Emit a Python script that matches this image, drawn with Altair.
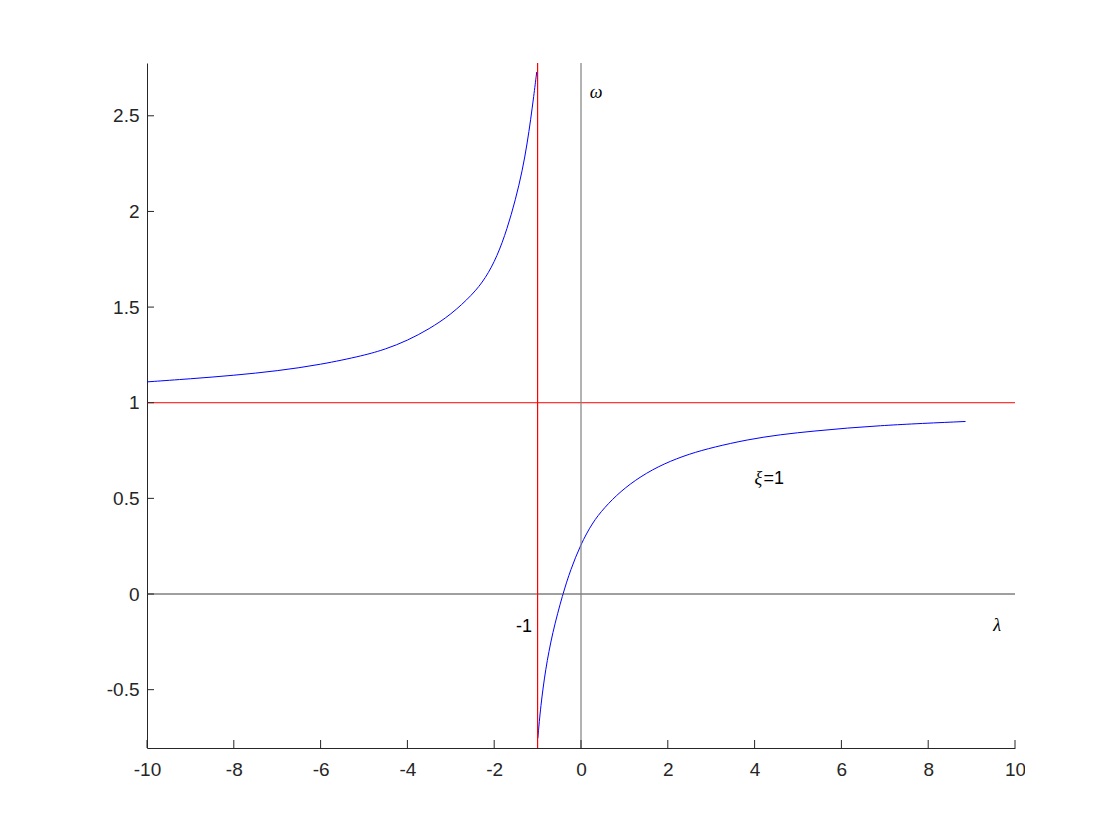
import altair as alt
import pandas as pd

# Curve xi = 1: left branch (lambda < -1)
lam_left = [-10.0, -9.0, -8.0, -7.0, -6.0, -5.0, -4.5, -4.0, -3.5, -3.0,
            -2.5, -2.2, -1.93, -1.70, -1.51, -1.35, -1.24, -1.16, -1.09, -1.02]
om_left = [1.109, 1.125, 1.143, 1.166, 1.199, 1.247, 1.28, 1.325, 1.385, 1.46,
           1.565, 1.65, 1.765, 1.91, 2.06, 2.215, 2.355, 2.48, 2.6, 2.729]

# right branch (lambda > -1)
lam_right = [-0.995, -0.93, -0.82, -0.66, -0.42, -0.24, -0.01, 0.26, 0.53, 0.91,
             1.37, 1.91, 2.5, 3.06, 3.83, 4.6, 5.37, 6.14, 6.9, 7.67, 8.86]
om_right = [-0.754, -0.588, -0.396, -0.204, 0.0, 0.127, 0.258, 0.372, 0.45, 0.537,
            0.615, 0.682, 0.733, 0.768, 0.807, 0.834, 0.852, 0.868, 0.88, 0.89, 0.902]

x_ticks = [-10, -8, -6, -4, -2, 0, 2, 4, 6, 8, 10]
y_ticks = [-0.5, 0, 0.5, 1, 1.5, 2, 2.5]
x_domain = [-10, 10]
y_domain = [-0.805, 2.776]

# reference lines
v_lines = [-1, 0]
v_colors = ["#ff0000", "#808080"]
h_lines = [1, 0]
h_colors = ["#ff0000", "#404040"]

# annotations
serif_text = ["ω", "λ", "ξ"]
serif_x = [0.2, 9.5, 4.0]
serif_y = [2.62, -0.165, 0.6]
sans_text = ["-1", "=1"]
sans_x = [-1.5, 4.0]
sans_y = [-0.17, 0.6]
sans_dx = [0, 9]

W, H = 868, 685
AXC = "#262626"
FONT = "Liberation Sans"

curve_df = pd.DataFrame({
    "lam": lam_left + lam_right,
    "om": om_left + om_right,
    "branch": ["left"] * len(lam_left) + ["right"] * len(lam_right),
})
vdf = pd.DataFrame({"lam": v_lines, "c": v_colors})
hdf = pd.DataFrame({"om": h_lines, "c": h_colors})
xt_df = pd.DataFrame({"lam": x_ticks})
yt_df = pd.DataFrame({"om": y_ticks})
serif_df = pd.DataFrame({"lam": serif_x, "om": serif_y, "t": serif_text})
minus_df = pd.DataFrame({"lam": [sans_x[0]], "om": [sans_y[0]], "t": [sans_text[0]]})
eq_df = pd.DataFrame({"lam": [sans_x[1]], "om": [sans_y[1]], "t": [sans_text[1]]})

xs = alt.Scale(domain=x_domain, nice=False, zero=False)
ys = alt.Scale(domain=y_domain, nice=False, zero=False)

label_expr = "datum.value < 0 ? '-' + format(-datum.value, '~g') : format(datum.value, '~g')"

x_axis = alt.Axis(values=x_ticks, title=None, tickSize=0, labelPadding=12,
                  labelExpr=label_expr, domainColor=AXC, labelColor=AXC,
                  labelFont=FONT, labelFontSize=19, grid=False, labelFlush=False)
y_axis = alt.Axis(values=y_ticks, title=None, tickSize=0, labelPadding=8,
                  labelExpr=label_expr, domainColor=AXC, labelColor=AXC,
                  labelFont=FONT, labelFontSize=19, grid=False, labelFlush=False)

X = alt.X("lam:Q", scale=xs, axis=x_axis)
Y = alt.Y("om:Q", scale=ys, axis=y_axis)

curve = alt.Chart(curve_df).mark_line(color="#0000ff", strokeWidth=1,
                                      interpolate="basis").encode(
    x=X, y=Y, detail="branch:N",
)

vrules = alt.Chart(vdf).mark_rule(strokeWidth=1.2).encode(
    x=X, color=alt.Color("c:N", scale=None),
)
hrules = alt.Chart(hdf).mark_rule(strokeWidth=1).encode(
    y=Y, color=alt.Color("c:N", scale=None),
)

xticks = alt.Chart(xt_df).mark_rule(color=AXC, strokeWidth=1).encode(
    x=X, y=alt.value(H), y2=alt.value(H - 8),
)
yticks = alt.Chart(yt_df).mark_rule(color=AXC, strokeWidth=1).encode(
    y=Y, x=alt.value(0), x2=alt.value(7),
)

serif = alt.Chart(serif_df).mark_text(
    font="Liberation Serif", fontStyle="italic", fontSize=18,
    align="left", baseline="middle", color="#000000",
).encode(x=X, y=Y, text="t:N")

sans_minus = alt.Chart(minus_df).mark_text(
    font=FONT, fontSize=18, align="left", baseline="middle", color="#000000",
).encode(x=X, y=Y, text="t:N")

sans_eq = alt.Chart(eq_df).mark_text(
    font=FONT, fontSize=18, align="left", baseline="middle", color="#000000",
    dx=sans_dx[1],
).encode(x=X, y=Y, text="t:N")

chart = alt.layer(
    curve, hrules, vrules, xticks, yticks, serif, sans_minus, sans_eq
).properties(
    width=W, height=H,
    autosize=alt.AutoSizeParams(type="none"),
    padding={"left": 139, "top": 55, "right": 10, "bottom": 50},
    background="white",
).configure_view(stroke=None)

chart.save("out.html", embed_options={"renderer": "svg", "actions": False})
